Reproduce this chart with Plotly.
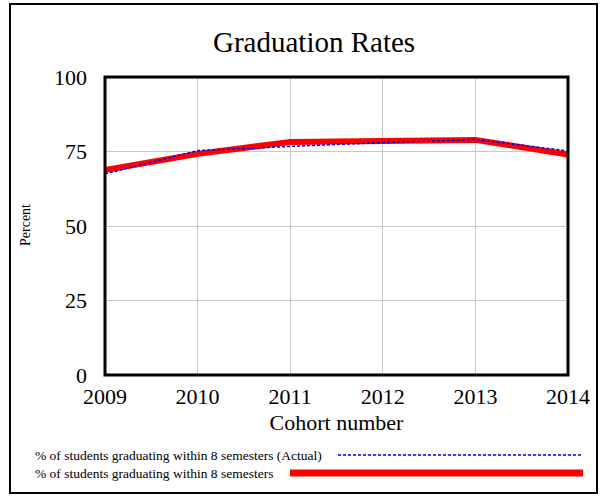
import plotly.graph_objects as go

years = [2009, 2010, 2011, 2012, 2013, 2014]
actual = [67.5, 75.3, 76.7, 78.0, 79.0, 75.2]
simulated = [68.8, 74.2, 78.2, 78.7, 78.9, 74.0]
name_actual = "% of students graduating within 8 semesters (Actual)"
name_sim = "% of students graduating within 8 semesters"

serif = "Liberation Serif"

fig = go.Figure()
fig.add_trace(go.Scatter(x=years, y=simulated, mode="lines", name=name_sim,
                         line=dict(color="#ff0000", width=6)))
fig.add_trace(go.Scatter(x=years, y=actual, mode="lines", name=name_actual,
                         line=dict(color="#0000ff", width=1.5, dash="3px,2px")))

# plot area: x 105..568, y 77..375 px
W, H = 603, 497
L, R, T, B = 105, 35, 77, 122
pw, ph = W - L - R, H - T - B

def px(x):
    return (x - L) / pw

def py(y):
    return (H - B - y) / ph

fig.update_layout(
    width=W, height=H,
    margin=dict(l=L, r=R, t=T, b=B),
    paper_bgcolor="white", plot_bgcolor="white",
    showlegend=False,
    font=dict(family=serif, color="black"),
    xaxis=dict(range=[2009, 2014], tickvals=years, showgrid=True,
               gridcolor="#c8c8c8", gridwidth=1, zeroline=False,
               tickfont=dict(size=22), ticks="", ticklabelstandoff=6,
               title=dict(text="Cohort number", font=dict(size=22), standoff=6)),
    yaxis=dict(range=[0, 100], tickvals=[0, 25, 50, 75, 100], showgrid=True,
               gridcolor="#c8c8c8", gridwidth=1, zeroline=False,
               tickfont=dict(size=22), ticks="", ticklabelstandoff=17),
)

# plot frame and outer border
fig.add_shape(type="rect", xref="paper", yref="paper", x0=0, x1=1, y0=0, y1=1,
              line=dict(color="black", width=3))
fig.add_shape(type="rect", xref="paper", yref="paper",
              x0=px(10), x1=px(597), y0=py(493), y1=py(4),
              line=dict(color="black", width=2))

fig.add_annotation(text="Graduation Rates", xref="paper", yref="paper",
                   x=px(314), y=py(42), xanchor="center", yanchor="middle",
                   showarrow=False, font=dict(size=29, family=serif))
fig.add_annotation(text="Percent", xref="paper", yref="paper",
                   x=px(26), y=py(225), xanchor="center", yanchor="middle",
                   showarrow=False, textangle=-90,
                   font=dict(size=14, family=serif))

# legend rows
fig.add_annotation(text=name_actual, xref="paper", yref="paper",
                   x=px(33), y=py(455), xanchor="left", yanchor="middle",
                   showarrow=False, font=dict(size=13.5, family=serif))
fig.add_shape(type="line", xref="paper", yref="paper",
              x0=px(338), x1=px(583), y0=py(455), y1=py(455),
              line=dict(color="#0000ff", width=1.5, dash="3px,2px"))
fig.add_annotation(text=name_sim, xref="paper", yref="paper",
                   x=px(33), y=py(473), xanchor="left", yanchor="middle",
                   showarrow=False, font=dict(size=13.5, family=serif))
fig.add_shape(type="line", xref="paper", yref="paper",
              x0=px(290), x1=px(583), y0=py(473), y1=py(473),
              line=dict(color="#ff0000", width=7))

fig.write_html("out.html", config={"displayModeBar": False},
               post_script="document.body.style.margin='0';")
